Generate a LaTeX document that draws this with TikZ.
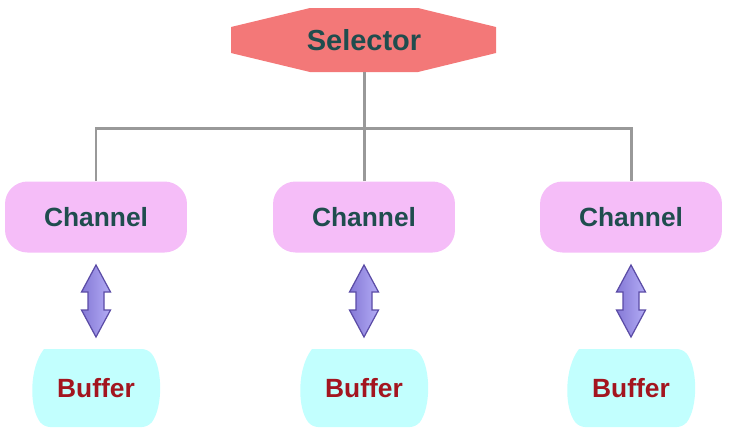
\documentclass[tikz,border=0pt]{standalone}
\usepackage{fontspec}
\setmainfont{Liberation Sans}

\definecolor{selred}{HTML}{F37878}
\definecolor{labteal}{HTML}{1F4D4E}
\definecolor{chanpink}{HTML}{F5BDF8}
\definecolor{bufcyan}{HTML}{C2FFFE}
\definecolor{bufred}{HTML}{A3151F}
\definecolor{wiregray}{HTML}{999999}
\definecolor{arrdark}{HTML}{8579D6}
\definecolor{arrlight}{HTML}{B3ACF5}
\definecolor{arredge}{HTML}{5B4CA6}

\begin{document}
\begin{tikzpicture}[x=0.02cm,y=-0.02cm]
\tikzstyle{label}=[font=\fontsize{15}{18}\selectfont\bfseries]
\tikzstyle{selbox}=[font=\fontsize{16.5}{19}\selectfont\bfseries,text=labteal,inner sep=0pt,minimum width=5.3cm,minimum height=1.28cm]
\tikzstyle{chanbox}=[label,rectangle,rounded corners=0.45cm,fill=chanpink,text=labteal,minimum width=3.64cm,minimum height=1.42cm]
\tikzstyle{buftext}=[label,text=bufred,inner sep=0pt]
\tikzstyle{bufshape}=[fill=bufcyan,rounded corners=0.12cm]
\tikzstyle{wire}=[draw=wiregray,line width=1.7pt]
\tikzstyle{link}=[draw=arredge,line width=0.7pt,left color=arrdark,right color=arrlight]
\useasboundingbox (0,0) rectangle (729,437);
% selector at the top
\fill [selred] (231,27) -- (310,8) -- (418,8) -- (496,27) -- (496,53) -- (418,72) -- (310,72) -- (231,53) -- cycle;
\node [selbox] (sel) at (364,40) {Selector};
\coordinate (hub) at (364,128);
% the three channels
\node [chanbox] (ch1) at (96,217) {Channel};
\node [chanbox] (ch2) at (364,217) {Channel};
\node [chanbox] (ch3) at (631,217) {Channel};
\draw [wire] (sel.south) -- (hub);
\draw [wire] (ch1.north) |- (hub) -| (ch3.north);
\draw [wire] (ch2.north) -- (hub);
% buffers
\fill [bufshape, shift={(96,388)}] (-52,-39) -- (52,-39) .. controls (67,-20) and (67,20) .. (52,39) -- (-52,39) .. controls (-67,20) and (-67,-20) .. (-52,-39);
\fill [bufshape, shift={(364,388)}] (-52,-39) -- (52,-39) .. controls (67,-20) and (67,20) .. (52,39) -- (-52,39) .. controls (-67,20) and (-67,-20) .. (-52,-39);
\fill [bufshape, shift={(631,388)}] (-52,-39) -- (52,-39) .. controls (67,-20) and (67,20) .. (52,39) -- (-52,39) .. controls (-67,20) and (-67,-20) .. (-52,-39);
\node [buftext] (buf1) at (96,388) {Buffer};
\node [buftext] (buf2) at (364,388) {Buffer};
\node [buftext] (buf3) at (631,388) {Buffer};
% double arrows between channel and buffer
\draw [link, shift={(96,301)}] (0,-36) -- (14.5,-9) -- (8,-9) -- (8,9) -- (14.5,9) -- (0,36) -- (-14.5,9) -- (-8,9) -- (-8,-9) -- (-14.5,-9) -- cycle;
\draw [link, shift={(364,301)}] (0,-36) -- (14.5,-9) -- (8,-9) -- (8,9) -- (14.5,9) -- (0,36) -- (-14.5,9) -- (-8,9) -- (-8,-9) -- (-14.5,-9) -- cycle;
\draw [link, shift={(631,301)}] (0,-36) -- (14.5,-9) -- (8,-9) -- (8,9) -- (14.5,9) -- (0,36) -- (-14.5,9) -- (-8,9) -- (-8,-9) -- (-14.5,-9) -- cycle;
\end{tikzpicture}
\end{document}
